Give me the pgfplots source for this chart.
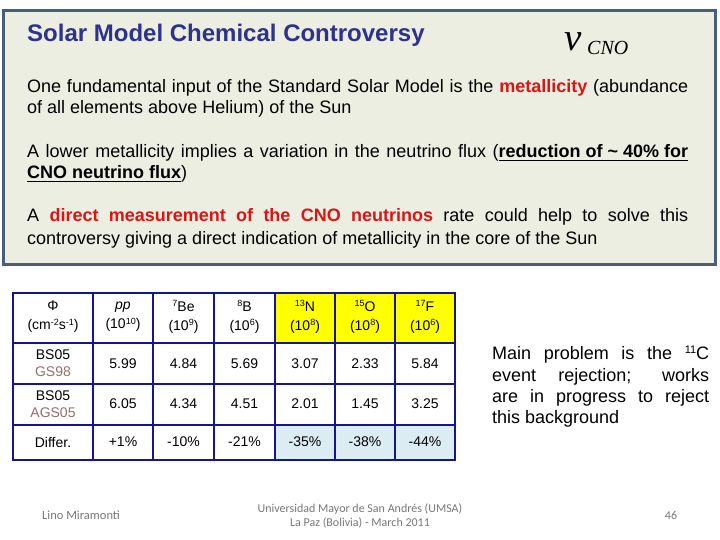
\documentclass[border=0pt]{standalone}
\usepackage{pgfplots}
\pgfplotsset{compat=1.18}
\usepackage{pgfplotstable}
\usepackage{fontspec}
\setmainfont{Liberation Sans}
\newfontfamily\serifnu{Liberation Serif}
\newfontfamily\calfont{Carlito}
\definecolor{boxfill}{RGB}{236,238,225}
\definecolor{boxborder}{RGB}{71,95,125}
\definecolor{titleblue}{RGB}{46,50,140}
\definecolor{hired}{RGB}{222,20,20}
\definecolor{tblue}{RGB}{20,20,150}
\definecolor{cellyellow}{RGB}{255,255,0}
\definecolor{cellblue}{RGB}{219,236,243}
\definecolor{gsbrown}{RGB}{150,110,110}
\definecolor{footgray}{RGB}{120,120,120}
\newcommand{\thul}[1]{\setbox0\hbox{#1}\rlap{\rule[-3.2pt]{\wd0}{1.4pt}}\box0}
\newcommand{\bodyfont}{\fontsize{18}{21.6}\selectfont}
\newcommand{\tabfont}{\fontsize{14}{19}\selectfont}
\newcommand{\tsup}[1]{\raisebox{0.33em}{\fontsize{9}{10}\selectfont #1}}
\newcommand{\bsup}[1]{\raisebox{0.33em}{\fontsize{11}{12}\selectfont #1}}

% flux values (x = column centre, y = row centre, label = value)
\pgfplotstableread[col sep=comma]{
x,y,label
123,364,5.99
183.5,364,4.84
244.5,364,5.69
305,364,3.07
365,364,2.33
425,364,5.84
123,404,6.05
183.5,404,4.34
244.5,404,4.51
305,404,2.01
365,404,1.45
425,404,3.25
123,442,+1\%
183.5,442,-10\%
244.5,442,-21\%
305,442,-35\%
365,442,-38\%
425,442,-44\%
}\fluxvals

\begin{document}
\begin{tikzpicture}
\begin{axis}[hide axis, scale only axis, width=720pt, height=540pt,
  xmin=0, xmax=720, ymin=0, ymax=540, y dir=reverse, clip=false]
\fill[white] (rel axis cs:0,0) rectangle (rel axis cs:1,1);
% top box
\addplot[fill=boxfill, draw=boxborder, line width=3pt] coordinates {(3,11) (715,11) (715,264) (3,264)} -- cycle;
% title and nu
\node[anchor=base west, inner sep=0pt, font=\fontsize{24}{28}\selectfont\bfseries, text=titleblue] at (axis cs:27,42) {Solar Model Chemical Controversy};
\node[anchor=base west, inner sep=0pt] at (axis cs:564,51) {\serifnu\itshape\fontsize{39}{41}\selectfont ν};
\node[anchor=base west, inner sep=0pt] at (axis cs:587,55) {\serifnu\itshape\fontsize{20}{22}\selectfont CNO};
% paragraphs
\node[anchor=base west, inner sep=0pt, font=\bodyfont] at (axis cs:27,93) {\hbox to 661pt{One fundamental input of the Standard Solar Model is the \textcolor{hired}{\textbf{metallicity}} (abundance}};
\node[anchor=base west, inner sep=0pt, font=\bodyfont] at (axis cs:27,114) {of all elements above Helium) of the Sun};
\node[anchor=base west, inner sep=0pt, font=\bodyfont] at (axis cs:27,158) {\hbox to 661pt{A lower metallicity implies a variation in the neutrino flux (\thul{\textbf{reduction of \textasciitilde{} 40\% for}}}};
\node[anchor=base west, inner sep=0pt, font=\bodyfont] at (axis cs:27,179) {\thul{\textbf{CNO neutrino flux}})};
\node[anchor=base west, inner sep=0pt, font=\bodyfont] at (axis cs:27,222) {\hbox to 661pt{A \textcolor{hired}{\textbf{direct measurement of the CNO neutrinos}} rate could help to solve this}};
\node[anchor=base west, inner sep=0pt, font=\bodyfont] at (axis cs:27,244) {controversy giving a direct indication of metallicity in the core of the Sun};
% table cell fills
\addplot[fill=cellyellow, draw=none] coordinates {(275,293) (455,293) (455,343) (275,343)} -- cycle;
\addplot[fill=cellblue, draw=none] coordinates {(275,425) (455,425) (455,460) (275,460)} -- cycle;
% table grid
\addplot[draw=tblue, line width=2pt, line cap=rect, unbounded coords=jump] coordinates {
(13,293) (455,293) (0,inf)
(13,343) (455,343) (0,inf)
(13,384) (455,384) (0,inf)
(13,425) (455,425) (0,inf)
(13,460) (455,460) (0,inf)
(13,293) (13,460) (0,inf)
(93,293) (93,460) (0,inf)
(153,293) (153,460) (0,inf)
(214,293) (214,460) (0,inf)
(275,293) (275,460) (0,inf)
(335,293) (335,460) (0,inf)
(395,293) (395,460) (0,inf)
(455,293) (455,460)};
% header
\node[align=center, font=\tabfont, inner sep=0pt] at (axis cs:53,317) {Φ\\(cm\tsup{-2}s\tsup{-1})};
\node[align=center, font=\tabfont, inner sep=0pt] at (axis cs:123,317) {\textit{pp}\\(10\tsup{10})};
\node[align=center, font=\tabfont, inner sep=0pt] at (axis cs:183.5,317) {\tsup{7}Be\\(10\tsup{9})};
\node[align=center, font=\tabfont, inner sep=0pt] at (axis cs:244.5,317) {\tsup{8}B\\(10\tsup{6})};
\node[align=center, font=\tabfont, inner sep=0pt] at (axis cs:305,317) {\tsup{13}N\\(10\tsup{8})};
\node[align=center, font=\tabfont, inner sep=0pt] at (axis cs:365,317) {\tsup{15}O\\(10\tsup{8})};
\node[align=center, font=\tabfont, inner sep=0pt] at (axis cs:425,317) {\tsup{17}F\\(10\tsup{6})};
% row labels
\node[align=center, font=\fontsize{14}{17}\selectfont, inner sep=0pt] at (axis cs:53,363) {BS05\\\textcolor{gsbrown}{GS98}};
\node[align=center, font=\fontsize{14}{17}\selectfont, inner sep=0pt] at (axis cs:53,404) {BS05\\\textcolor{gsbrown}{AGS05}};
\node[align=center, font=\tabfont, inner sep=0pt] at (axis cs:53,442) {Differ.};
% values
\addplot[draw=none, mark=none, nodes near coords, point meta=explicit symbolic,
  nodes near coords align={anchor=center},
  every node near coord/.append style={font=\tabfont, inner sep=0pt, anchor=center}]
  table[x=x, y=y, meta=label] {\fluxvals};
% side text
\node[anchor=base west, inner sep=0pt, font=\bodyfont] at (axis cs:492,359) {\hbox to 217pt{Main problem is the \bsup{11}C}};
\node[anchor=base west, inner sep=0pt, font=\bodyfont] at (axis cs:492,381) {\hbox to 217pt{event rejection; works}};
\node[anchor=base west, inner sep=0pt, font=\bodyfont] at (axis cs:492,402) {\hbox to 217pt{are in progress to reject}};
\node[anchor=base west, inner sep=0pt, font=\bodyfont] at (axis cs:492,423) {this background};
% footer
\node[anchor=base west, inner sep=0pt, font=\calfont\fontsize{12.5}{14}\selectfont, text=footgray] at (axis cs:42,519) {Lino Miramonti};
\node[anchor=base, inner sep=0pt, font=\calfont\fontsize{12}{14}\selectfont, text=footgray] at (axis cs:360,512) {Universidad Mayor de San Andrés (UMSA)};
\node[anchor=base, inner sep=0pt, font=\calfont\fontsize{12}{14}\selectfont, text=footgray] at (axis cs:360,526) {La Paz (Bolivia) - March 2011};
\node[anchor=base, inner sep=0pt, font=\calfont\fontsize{12}{14}\selectfont, text=footgray] at (axis cs:671,519) {46};
\end{axis}
\end{tikzpicture}
\end{document}
